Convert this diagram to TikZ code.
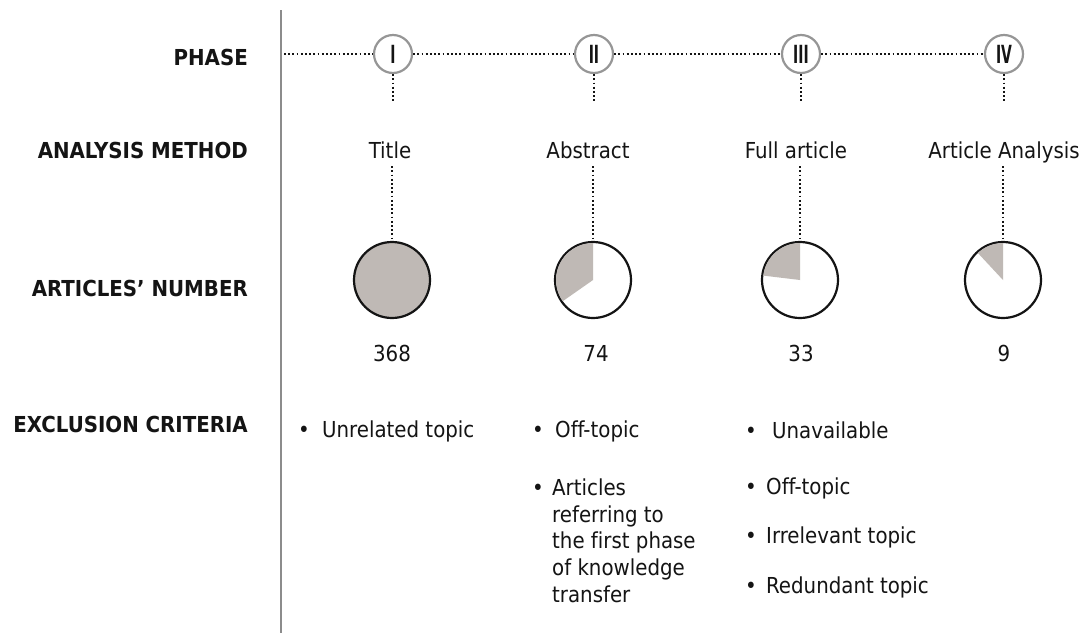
\documentclass[tikz,border=0pt]{standalone}
\usepackage{fontspec}
\usepackage{graphicx}
\setmainfont[Ligatures={NoCommon}]{DejaVu Sans Condensed}
\usetikzlibrary{calc}
\definecolor{piegray}{RGB}{191,185,181}
\definecolor{ringgray}{RGB}{150,150,150}
\definecolor{axisgray}{RGB}{140,140,140}
\definecolor{ink}{RGB}{20,20,20}
\newcommand{\numeral}[1]{\scalebox{0.62}[1]{\bfseries #1}}
\begin{document}
\begin{tikzpicture}[x=1pt,y=-1pt,
  rowlabel/.style={anchor=base east, inner sep=0, text=ink, font=\fontsize{22}{26}\selectfont\bfseries},
  phasecirc/.style={circle, draw=ringgray, line width=2.2pt, minimum size=38pt, inner sep=0, fill=white, text=ink, font=\fontsize{25}{25}\selectfont},
  dotline/.style={draw=ink, line width=2.2pt, dash pattern=on 1.8pt off 2.4pt},
  method/.style={anchor=base, inner sep=3pt, text height=17pt, text depth=5pt, text=ink, font=\fontsize{22}{26}\selectfont},
  pie/.style={circle, draw=ink, line width=2.2pt, minimum size=76pt, inner sep=0},
  count/.style={anchor=base, inner sep=0, text=ink, font=\fontsize{22}{26}\selectfont},
  item/.style={anchor=base west, inner sep=0, text=ink, font=\fontsize{22}{26}\selectfont},
  axisline/.style={draw=axisgray, line width=2pt}
]
\useasboundingbox (0,0) rectangle (1087,633);
\fill[white] (0,0) rectangle (1087,633);

% vertical axis
\coordinate (axtop) at (281,10);
\coordinate (axbot) at (281,633);
\draw[axisline] (axtop) -- (axbot);

% row labels
\node[rowlabel] (lphase) at (248,65) {PHASE};
\node[rowlabel] (lmethod) at (248,158) {ANALYSIS METHOD};
\node[rowlabel] (lnumber) at (248,296) {ARTICLES’ NUMBER};
\node[rowlabel] (lcrit) at (248,432) {EXCLUSION CRITERIA};

% phases
\node[phasecirc] (p1) at (393,54) {\numeral{I}};
\node[phasecirc] (p2) at (594,54) {\numeral{II}};
\node[phasecirc] (p3) at (801,54) {\numeral{III}};
\node[phasecirc] (p4) at (1004,54) {\numeral{IV}};
\coordinate (hstart) at (284,54);
\draw[dotline] (hstart) -- (p1.west);
\draw[dotline] (p1.east) -- (p2.west);
\draw[dotline] (p2.east) -- (p3.west);
\draw[dotline] (p3.east) -- (p4.west);

% methods
\node[method] (m1) at (390,158) {Title};
\node[method] (m2) at (588,158) {Abstract};
\node[method] (m3) at (796,158) {Full article};
\node[method] (m4) at (1004,158) {Article Analysis};

% pies
\node[pie, fill=piegray] (c1) at (392,280) {};
\node[pie] (c2) at (593,280) {};
\node[pie] (c3) at (800,280) {};
\node[pie] (c4) at (1003,280) {};

\begin{scope}
  \clip (c2.center) circle[radius=37pt];
  \fill[piegray] (c2.center) -- ++(0,-100) -- ++(-100,0) -- ++(0,170) -- cycle;
\end{scope}
\begin{scope}
  \clip (c3.center) circle[radius=37pt];
  \fill[piegray] (c3.center) -- ++(0,-100) -- ++(-100,0) -- ++(0,88) -- cycle;
\end{scope}
\begin{scope}
  \clip (c4.center) circle[radius=37pt];
  \fill[piegray] (c4.center) -- ++(0,-100) -- ++(-93,0) -- cycle;
\end{scope}

% connectors phase -> method -> pie
\foreach \i in {1,2,3,4}{
  \draw[dotline, shorten >=35pt] (p\i.south) -- (p\i.south |- m\i.north);
  \draw[dotline] (m\i.south -| c\i.north) -- (c\i.north);
}

% counts
\node[count] (n1) at (392,361) {368};
\node[count] (n2) at (596,361) {74};
\node[count] (n3) at (801,361) {33};
\node[count] (n4) at (1004,361) {9};

% exclusion criteria
\node[item] (b1) at (298,437) {•};
\node[item] (t1) at (322,437) {Unrelated topic};

\node[item] (b2a) at (532,437) {•};
\node[item] (t2a) at (555,437) {Off-topic};
\node[item] (b2b) at (532,495) {•};
\node[anchor=north west, inner sep=0, align=left, text=ink, font=\fontsize{22}{26.7}\selectfont] (t2b) at (552,478.5)
  {Articles\\referring to\\the first phase\\of knowledge\\transfer};

\node[item] (b3a) at (745,438) {•};
\node[item] (t3a) at (772,438) {Unavailable};
\node[item] (b3b) at (745,494) {•};
\node[item] (t3b) at (766,494) {Off-topic};
\node[item] (b3c) at (745,543) {•};
\node[item] (t3c) at (766,543) {Irrelevant topic};
\node[item] (b3d) at (745,593) {•};
\node[item] (t3d) at (766,593) {Redundant topic};
\end{tikzpicture}
\end{document}
